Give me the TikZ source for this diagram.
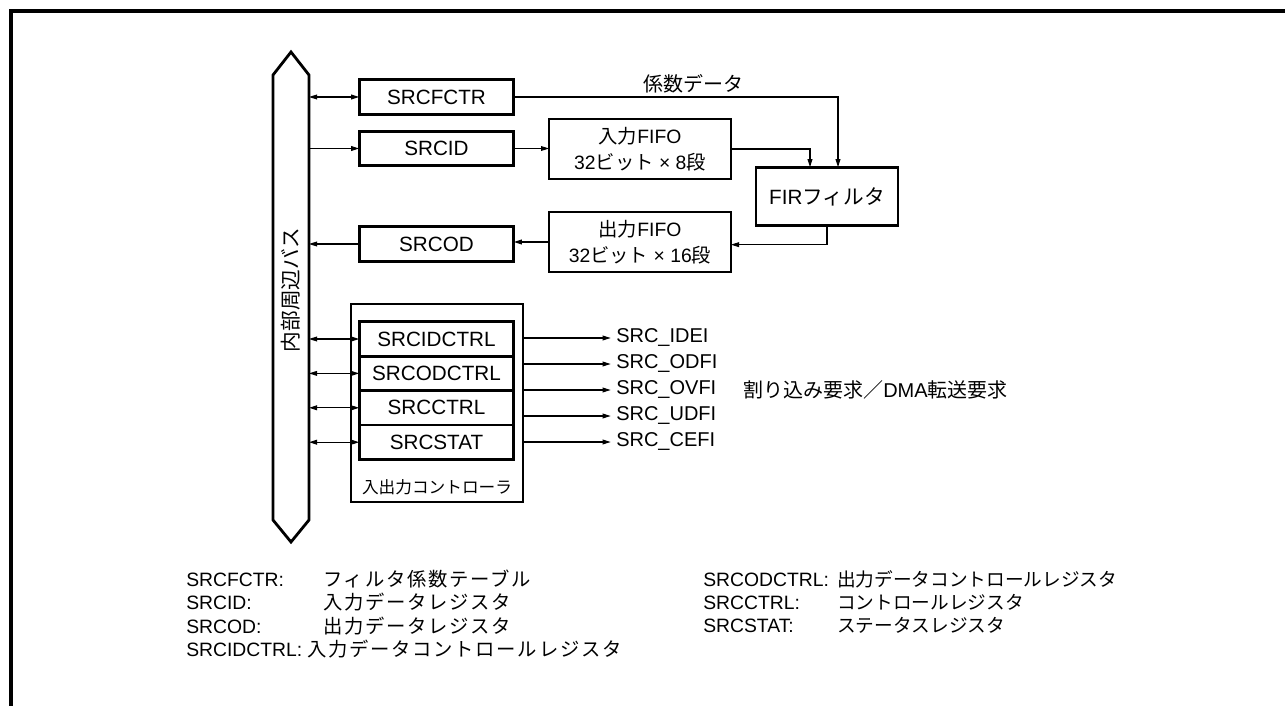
\documentclass[tikz,border=0pt]{standalone}
\usepackage{fontspec}
\setmainfont{Liberation Sans}
\newfontfamily\jp{Noto Sans CJK JP}
\newfontfamily\jpwide[LetterSpace=9]{Noto Sans CJK JP}
\usetikzlibrary{arrows.meta,positioning}

\begin{document}
\begin{tikzpicture}[
  x=0.75pt,y=-0.75pt,
  font=\fontsize{14.5}{19.5}\selectfont,
  box/.style={draw,line width=2.1pt,outer sep=0pt,inner sep=1pt},
  reg/.style={box,minimum width=116pt,minimum height=25.8pt,font=\fontsize{15.5}{18}\selectfont},
  fifo/.style={box,minimum width=136.5pt,minimum height=45pt,align=center},
  arr/.style={-{Triangle[length=6pt,width=3.6pt]},line width=0.8pt},
  dbl/.style={{Triangle[length=6pt,width=3.6pt]}-{Triangle[length=6pt,width=3.6pt]},line width=0.8pt},
  sig/.style={anchor=west,inner sep=0pt,text height=0.72em,text depth=0pt,font=\fontsize{15}{18}\selectfont},
  lbl/.style={anchor=base west,inner sep=0pt},
]
\useasboundingbox (0,0) rectangle (1285,706);
% frame
\draw[line width=2.5pt] (11,706) -- (11,11) -- (1285,11);

% internal bus
\draw[line width=2.1pt,line join=miter] (273,75) -- (291,52) -- (309,75) -- (309,520)
  -- (291,542) -- (273,520) -- cycle;
\node[rotate=90,inner sep=0pt,font=\jp\fontsize{15.5}{18}\selectfont] (bus) at (291,290) {内部周辺バス};
\coordinate (busR) at (309,290);

% data registers
\node[reg] (fctr) at (436.5,97) {SRCFCTR};
\node[reg] (id) at (436.5,148.5) {SRCID};
\node[reg] (od) at (436.5,244) {SRCOD};
\draw[dbl] (busR |- fctr.west) -- (fctr.west);
\draw[arr] (busR |- id.west) -- (id.west);
\draw[arr] (od.west) -- (busR |- od.west);

% fifos and filter
\node[fifo] (fifoin) at (640,149) {{\jp 入力}FIFO\\32{\jp ビット} × 8{\jp 段}};
\node[fifo] (fifoout) at (640,242) {{\jp 出力}FIFO\\32{\jp ビット} × 16{\jp 段}};
\node[box,minimum width=106.5pt,minimum height=44pt,font=\fontsize{15.5}{18}\selectfont] (fir) at (827,196.5) {FIR{\jp フィルタ}};
\node[inner sep=0pt,font=\jp\fontsize{15}{18}\selectfont] (coef) at (693,84) {係数データ};
\draw[arr] (id.east) -- (id.east -| fifoin.west);
\draw[arr] (fifoin.east) -| ([xshift=-12.75pt]fir.north);
\draw[arr] (fctr.east) -| ([xshift=8.25pt]fir.north);
\draw[arr] (fir.south) |- ([yshift=-2pt]fifoout.east);
\draw[arr] (fifoout.west) -- (fifoout.west -| od.east);

% i/o controller
\node[box,minimum width=129pt,minimum height=148.5pt] (ioc) at (437,403) {};
\node[reg] (ctl1) at (436.5,339) {SRCIDCTRL};
\node[reg,below=0pt of ctl1] (ctl2) {SRCODCTRL};
\node[reg,below=0pt of ctl2] (ctl3) {SRCCTRL};
\node[reg,below=0pt of ctl3] (ctl4) {SRCSTAT};
\node[inner sep=0pt,font=\jp\fontsize{12.5}{15}\selectfont] (ioclbl) at (437,487) {入出力コントローラ};
\draw[dbl] (busR |- ctl1.west) -- (ctl1.west);
\draw[dbl] (busR |- ctl2.west) -- (ctl2.west);
\draw[dbl] (busR |- ctl3.west) -- (ctl3.west);
\draw[dbl] (busR |- ctl4.west) -- (ctl4.west);

% request signals
\node[sig] (idei) at (616,338) {SRC\_IDEI};
\node[sig] (odfi) at (616,364) {SRC\_ODFI};
\node[sig] (ovfi) at (616,390) {SRC\_OVFI};
\node[sig] (udfi) at (616,416) {SRC\_UDFI};
\node[sig] (cefi) at (616,442) {SRC\_CEFI};
\draw[arr] (ioc.east |- idei.west) -- ([xshift=-4pt]idei.west);
\draw[arr] (ioc.east |- odfi.west) -- ([xshift=-4pt]odfi.west);
\draw[arr] (ioc.east |- ovfi.west) -- ([xshift=-4pt]ovfi.west);
\draw[arr] (ioc.east |- udfi.west) -- ([xshift=-4pt]udfi.west);
\draw[arr] (ioc.east |- cefi.west) -- ([xshift=-4pt]cefi.west);
\node[anchor=west,inner sep=0pt,font=\fontsize{15}{18}\selectfont] (req) at (743,390) {{\jp 割り込み要求／}DMA{\jp 転送要求}};

% legend
\node[lbl] (k1) at (186,586) {SRCFCTR:};
\node[lbl] (k2) at (186,609.5) {SRCID:};
\node[lbl] (k3) at (186,633) {SRCOD:};
\node[lbl] (k4) at (186,656.5) {SRCIDCTRL:};
\node[lbl,font=\jpwide\fontsize{14.5}{18}\selectfont] (v1) at (323,586) {フィルタ係数テーブル};
\node[lbl,font=\jpwide\fontsize{14.5}{18}\selectfont] (v2) at (323,609.5) {入力データレジスタ};
\node[lbl,font=\jpwide\fontsize{14.5}{18}\selectfont] (v3) at (323,633) {出力データレジスタ};
\node[lbl,font=\jpwide\fontsize{14.5}{18}\selectfont] (v4) at (307,656.5) {入力データコントロールレジスタ};
\node[lbl] (k5) at (703,586) {SRCODCTRL:};
\node[lbl] (k6) at (703,609) {SRCCTRL:};
\node[lbl] (k7) at (703,632.5) {SRCSTAT:};
\node[lbl,font=\jp\fontsize{14}{18}\selectfont] (v5) at (837,586) {出力データコントロールレジスタ};
\node[lbl,font=\jp\fontsize{14}{18}\selectfont] (v6) at (837,609) {コントロールレジスタ};
\node[lbl,font=\jp\fontsize{14}{18}\selectfont] (v7) at (837,632.5) {ステータスレジスタ};
\end{tikzpicture}
\end{document}
